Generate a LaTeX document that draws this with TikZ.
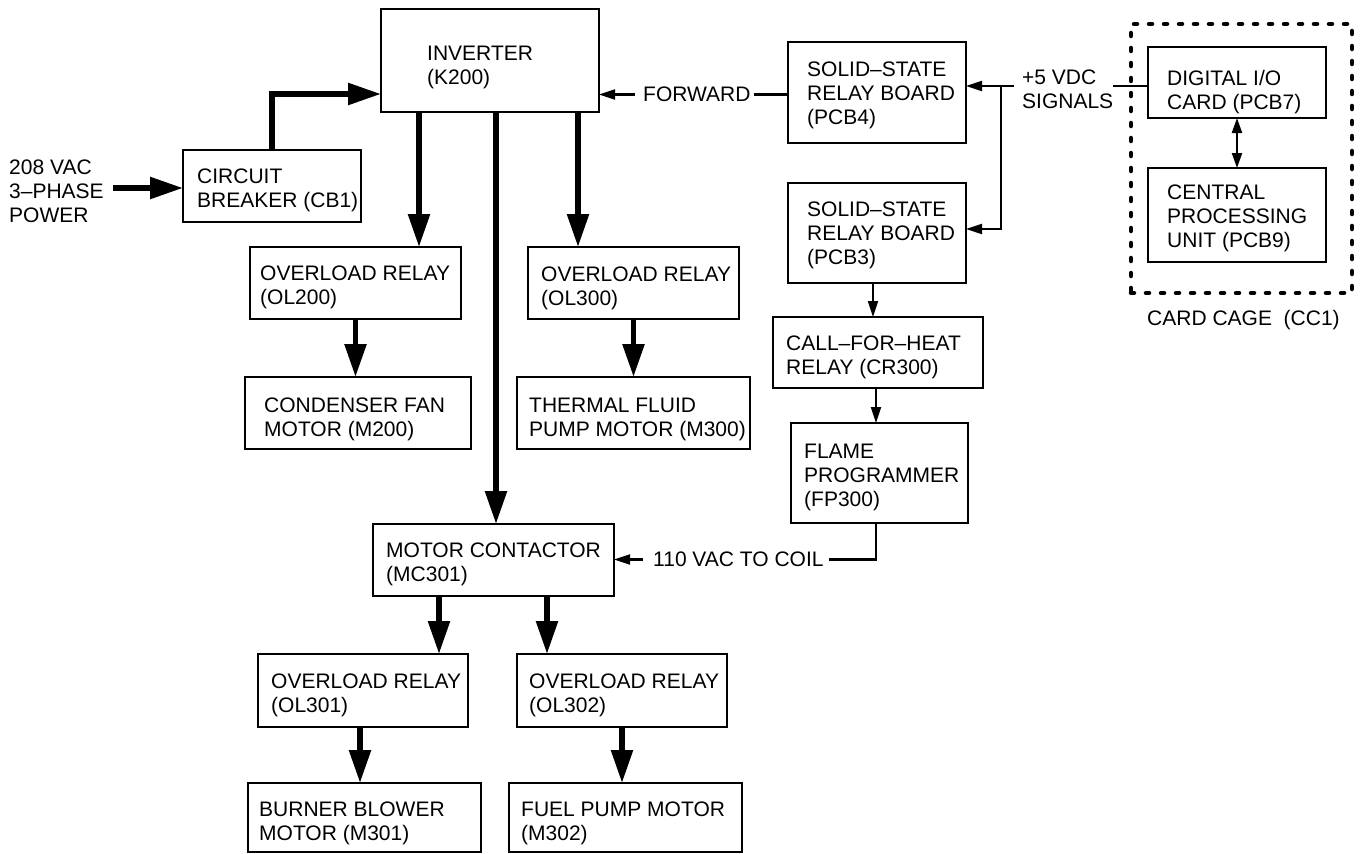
\documentclass[tikz,border=0pt]{standalone}
\usepackage{fontspec}
\setmainfont{Liberation Sans}
\usetikzlibrary{arrows.meta}
\newcommand\mkbox[5]{\node[box, minimum width={(#4-#2)*1pt}, minimum height={(#5-#3)*1pt}] (#1) at ({(#2+#4)/2},{(#3+#5)/2}) {};}
\begin{document}
\begin{tikzpicture}[x=1pt,y=-1pt,
  box/.style={draw, rectangle, line width=2.2pt, inner sep=0pt, outer sep=0pt},
  lbl/.style={anchor=north west, inner sep=0pt, align=left, font=\fontsize{21pt}{24pt}\selectfont},
  slbl/.style={anchor=west, inner sep=0pt, font=\fontsize{21pt}{24pt}\selectfont},
  pw/.style={line width=5.5pt, -{Triangle[length=33pt,width=21pt]}},
  ln/.style={line width=2.1pt},
  sig/.style={line width=2.1pt, -{Triangle[length=16pt,width=10pt]}},
  sigb/.style={line width=2.1pt, {Triangle[length=15pt,width=10pt]}-{Triangle[length=15pt,width=10pt]}},
  cagestyle/.style={draw, rectangle, line width=4.5pt, dash pattern=on 3pt off 12pt, line cap=round, inner sep=0pt}]
\useasboundingbox (0,0) rectangle (1363,854);

% boxes
\mkbox{inv}{381}{9}{599}{112}
\mkbox{cb}{183}{150}{361}{222}
\mkbox{ol200}{250}{247}{461}{319}
\mkbox{m200}{245}{377}{471}{449}
\mkbox{ol300}{528}{247}{739}{319}
\mkbox{m300}{517}{377}{750}{449}
\mkbox{pcb4}{788}{42}{966}{143}
\mkbox{pcb3}{788}{183}{966}{283}
\mkbox{cr300}{773}{317}{983}{388}
\mkbox{fp300}{791}{423}{968}{523}
\mkbox{mc301}{373}{524}{614}{596}
\mkbox{ol301}{258}{654}{468}{727}
\mkbox{m301}{248}{783}{481}{852}
\mkbox{ol302}{517}{654}{727}{727}
\mkbox{m302}{509}{783}{742}{852}
\mkbox{dio}{1148}{47}{1326}{118}
\mkbox{cpu}{1148}{168}{1326}{262}
\node[cagestyle, minimum width=221pt, minimum height=269pt] (cage) at (1241.5,158.5) {};

% labels
\node[lbl] (t-inv) at (427,46) {INVERTER\\(K200)};
\node[lbl] (t-cb) at (197,169) {CIRCUIT\\BREAKER (CB1)};
\node[lbl] (pwr) at (9,160) {208 VAC\\3–PHASE\\POWER};
\node[lbl] (t-ol200) at (260,266) {OVERLOAD RELAY\\(OL200)};
\node[lbl] (t-m200) at (264,398) {CONDENSER FAN\\MOTOR (M200)};
\node[lbl] (t-ol300) at (541,267) {OVERLOAD RELAY\\(OL300)};
\node[lbl] (t-m300) at (529,398) {THERMAL FLUID\\PUMP MOTOR (M300)};
\node[lbl] (t-pcb4) at (807,62) {SOLID–STATE\\RELAY BOARD\\(PCB4)};
\node[lbl] (t-pcb3) at (807,202) {SOLID–STATE\\RELAY BOARD\\(PCB3)};
\node[lbl] (t-cr300) at (786,336) {CALL–FOR–HEAT\\RELAY (CR300)};
\node[lbl] (t-fp300) at (804,444) {FLAME\\PROGRAMMER\\(FP300)};
\node[lbl] (t-mc301) at (386,543) {MOTOR CONTACTOR\\(MC301)};
\node[lbl] (t-ol301) at (271,674) {OVERLOAD RELAY\\(OL301)};
\node[lbl] (t-m301) at (259,802) {BURNER BLOWER\\MOTOR (M301)};
\node[lbl] (t-ol302) at (529,674) {OVERLOAD RELAY\\(OL302)};
\node[lbl] (t-m302) at (521,802) {FUEL PUMP MOTOR\\(M302)};
\node[lbl] (t-dio) at (1167,70) {DIGITAL I/O\\CARD (PCB7)};
\node[lbl] (t-cpu) at (1167,185) {CENTRAL\\PROCESSING\\UNIT (PCB9)};
\node[lbl] (t-cage) at (1147,310) {CARD CAGE\ \ (CC1)};
\node[lbl] (sigtxt) at (1022,70) {+5 VDC\\SIGNALS};
\node[slbl] (fwd) at (643,94.5) {FORWARD};
\node[slbl] (vac) at (653,559.5) {110 VAC TO COIL};

% helper coordinates
\coordinate (pwrS) at (113,188);
\coordinate (cbturn) at (272,94);
\coordinate (a200) at (419,112);
\coordinate (amc) at (496,112);
\coordinate (a300) at (578,112);
\coordinate (a301) at (439,596);
\coordinate (a302) at (547,596);
\coordinate (b301) at (360,727);
\coordinate (jn) at (1001,86);
\coordinate (sigL) at (1014,86);
\coordinate (sigR) at (1113,86);
\coordinate (jb) at (1001,229);
\coordinate (p3o) at (873,283);
\coordinate (cro) at (876,388);
\coordinate (fpo) at (876,523);

% power connectors
\draw[pw] (pwrS) -- (pwrS -| cb.west);
\draw[pw] (cb.north) |- (cbturn -| inv.west);
\draw[pw] (a200) -- (a200 |- ol200.north);
\draw[pw] (amc) -- (amc |- mc301.north);
\draw[pw] (a300) -- (a300 |- ol300.north);
\draw[pw] (ol200.south) -- (ol200.south |- m200.north);
\draw[pw] (ol300.south) -- (ol300.south |- m300.north);
\draw[pw] (a301) -- (a301 |- ol301.north);
\draw[pw] (a302) -- (a302 |- ol302.north);
\draw[pw] (b301) -- (b301 |- m301.north);
\draw[pw] (ol302.south) -- (ol302.south |- m302.north);

% signal connectors
\draw[sig] ([xshift=-8pt]fwd.west) -- (fwd.west -| inv.east);
\draw[ln] (fwd.east -| pcb4.west) -- ([xshift=3pt]fwd.east);
\draw[sig] (sigL) -- (sigL -| pcb4.east);
\draw[sig] (jn) |- (jb -| pcb3.east);
\draw[ln] (sigR) -- (sigR -| dio.west);
\draw[sigb] (dio.south) -- (cpu.north);
\draw[sig] (p3o) -- (p3o |- cr300.north);
\draw[sig] (cro) -- (cro |- fp300.north);
\draw[ln] (fpo) |- ([xshift=5pt]vac.east);
\draw[sig] ([xshift=-10pt]vac.west) -- (vac.west -| mc301.east);
\end{tikzpicture}
\end{document}
